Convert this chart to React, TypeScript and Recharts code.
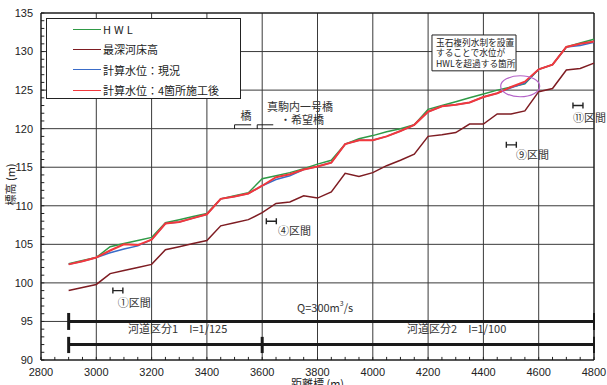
import React from 'react';
import {
  LineChart,
  Line,
  XAxis,
  YAxis,
  CartesianGrid,
  ReferenceLine,
  ReferenceDot,
  ReferenceArea,
  Legend,
} from 'recharts';

// distance marks (m) and levels
const distances = [
  2900, 2950, 3000, 3050, 3100, 3150, 3200, 3250, 3300, 3350, 3400, 3450, 3500,
  3550, 3600, 3650, 3700, 3750, 3800, 3850, 3900, 3950, 4000, 4050, 4100, 4150,
  4200, 4250, 4300, 4350, 4400, 4450, 4500, 4550, 4600, 4650, 4700, 4750, 4800,
];

const hwl = [
  102.5, 102.9, 103.3, 104.7, 105.1, 105.5, 105.9, 107.8, 108.2, 108.6, 109.0, 110.9, 111.3,
  111.7, 113.5, 113.9, 114.3, 114.8, 115.4, 115.9, 118.0, 118.7, 119.1, 119.6, 120.0, 120.5,
  122.5, 123.0, 123.5, 124.0, 124.5, 125.0, 125.4, 125.8, 127.7, 128.3, 130.6, 131.1, 131.6,
];

const bedLevel = [
  99.0, 99.4, 99.8, 101.2, 101.6, 102.0, 102.4, 104.3, 104.7, 105.1, 105.5, 107.4, 107.8,
  108.2, 109.1, 110.3, 110.5, 111.3, 111.0, 111.8, 114.2, 113.8, 114.3, 115.2, 115.9, 116.7,
  119.0, 119.2, 119.5, 120.6, 120.6, 121.9, 121.9, 122.3, 124.8, 125.2, 127.6, 127.8, 128.5,
];

const calcCurrent = [
  102.4, 102.8, 103.3, 103.9, 104.4, 104.8, 105.6, 107.7, 107.9, 108.4, 108.9, 110.9, 111.2,
  111.6, 112.6, 113.4, 113.9, 114.7, 115.1, 115.6, 118.0, 118.5, 118.5, 119.0, 119.7, 120.5,
  122.2, 122.9, 123.1, 123.4, 124.1, 124.6, 125.3, 125.9, 127.7, 128.3, 130.6, 130.8, 131.2,
];

const calcAfter = [
  102.4, 102.8, 103.3, 104.2, 105.0, 104.9, 105.6, 107.7, 107.9, 108.4, 108.9, 110.9, 111.2,
  111.6, 112.6, 113.7, 114.1, 114.7, 115.1, 115.6, 118.0, 118.5, 118.5, 119.0, 119.7, 120.5,
  122.2, 122.9, 123.1, 123.4, 124.1, 124.6, 125.4, 126.1, 127.7, 128.3, 130.6, 131.0, 131.3,
];

const xTicks = [2800, 3000, 3200, 3400, 3600, 3800, 4000, 4200, 4400, 4600, 4800];
const yTicks = [90, 95, 100, 105, 110, 115, 120, 125, 130, 135];
const xMinorTicks = Array.from({ length: 41 }, (_, i) => 2800 + i * 50);
const yMinorTicks = Array.from({ length: 46 }, (_, i) => 90 + i);

const seriesNames = ['HWL', '最深河床高', '計算水位：現況', '計算水位：4箇所施工後'];

const GREEN = '#2f9a46';
const DARKRED = '#7e1c22';
const BLUE = '#3a6cc8';
const RED = '#f2383c';
const seriesColors = [GREEN, DARKRED, BLUE, RED];

const JP = '"Noto Sans CJK JP", "Noto Sans", sans-serif';
const NUM = '"Liberation Sans", Arial, sans-serif';

const rows = distances.map((x, i) => ({
  x,
  hwl: hwl[i],
  bed: bedLevel[i],
  cur: calcCurrent[i],
  aft: calcAfter[i],
}));

const LegendBox = () => (
  <div
    style={{
      width: 195,
      height: 81,
      border: '1px solid #222',
      background: '#fff',
      boxSizing: 'border-box',
      position: 'relative',
      fontFamily: JP,
      fontSize: 11,
      color: '#222',
    }}
  >
    {seriesNames.map((name, i) => (
      <div
        key={name}
        style={{
          position: 'absolute',
          left: 26,
          top: 2 + i * 20.4,
          height: 16,
          display: 'flex',
          alignItems: 'center',
          whiteSpace: 'nowrap',
        }}
      >
        <span style={{ display: 'inline-block', width: 28, borderTop: `1.5px solid ${seriesColors[i]}` }} />
        <span style={{ marginLeft: 2, letterSpacing: i === 0 ? 3 : 0 }}>{name}</span>
      </div>
    ))}
  </div>
);

// text pinned to a chart position
const note = (x: number, y: number, text: React.ReactNode, key: string, anchor = 'start', size = 11) => (
  <ReferenceDot
    key={key}
    x={x}
    y={y}
    r={0}
    shape={(p: any) => (
      <text
        x={p.cx}
        y={p.cy}
        textAnchor={anchor}
        dominantBaseline="central"
        fontSize={size}
        fontFamily={JP}
        fill="#333"
      >
        {text}
      </text>
    )}
  />
);

// small |-| marker for section positions
const sectionMark = (x: number, y: number, key: string) => (
  <ReferenceDot
    key={key}
    x={x}
    y={y}
    r={0}
    shape={(p: any) => (
      <path
        d={`M${p.cx - 5},${p.cy - 3}v6M${p.cx - 5},${p.cy}h10M${p.cx + 5},${p.cy - 3}v6`}
        stroke="#222"
        strokeWidth={1.4}
        fill="none"
      />
    )}
  />
);

const seg = (x1: number, y1: number, x2: number, y2: number, key: string, w = 3, color = '#1a1a1a') => (
  <ReferenceLine
    key={key}
    segment={[{ x: x1, y: y1 }, { x: x2, y: y2 }]}
    stroke={color}
    strokeWidth={w}
    ifOverflow="visible"
  />
);

export default function App() {
  return (
    <div style={{ position: 'absolute', left: 0, top: 0, width: 607, height: 385, background: '#fff' }}>
      <LineChart width={607} height={385} data={rows} margin={{ top: 13, right: 13, bottom: 0, left: 0 }}>
        <CartesianGrid stroke="#3a3a3a" strokeWidth={1} />
        <XAxis
          type="number"
          dataKey="x"
          domain={[2800, 4800]}
          ticks={xTicks}
          height={25}
          tickLine={false}
          tickSize={6}
          tickMargin={2}
          axisLine={{ stroke: '#111' }}
          tick={{ fontSize: 11, fill: '#222', fontFamily: NUM }}
          label={{
            content: (p: any) => (
              <text
                x={p.viewBox.x + p.viewBox.width / 2}
                y={p.viewBox.y + 28}
                textAnchor="middle"
                fontSize={11}
                fontFamily={JP}
                fill="#222"
              >
                距離標 (m)
              </text>
            ),
          }}
        />
        <YAxis
          type="number"
          domain={[90, 135]}
          ticks={yTicks}
          width={41}
          tickLine={false}
          tickSize={6}
          tickMargin={2}
          axisLine={{ stroke: '#111' }}
          tick={{ fontSize: 11, fill: '#222', fontFamily: NUM }}
          label={{
            content: (p: any) => {
              const cx = 10;
              const cy = p.viewBox.y + p.viewBox.height / 2 - 2;
              return (
                <text
                  x={cx}
                  y={cy}
                  transform={`rotate(-90 ${cx} ${cy})`}
                  textAnchor="middle"
                  dominantBaseline="central"
                  fontSize={11}
                  fontFamily={JP}
                  fill="#222"
                >
                  標高 (m)
                </text>
              );
            },
          }}
        />
        <ReferenceLine y={135} stroke="#111" />
        <ReferenceLine x={4800} stroke="#111" />

        {/* inward minor ticks */}
        {xMinorTicks.map((v) => seg(v, 90, v, 90.4, `mx${v}`, 1, '#222'))}
        {yMinorTicks.map((v) => seg(2800, v, 2812, v, `my${v}`, 1, '#222'))}

        <Line dataKey="hwl" name={seriesNames[0]} stroke={GREEN} strokeWidth={1.5} dot={false} activeDot={false} isAnimationActive={false} />
        <Line dataKey="bed" name={seriesNames[1]} stroke={DARKRED} strokeWidth={1.5} dot={false} activeDot={false} isAnimationActive={false} />
        <Line dataKey="cur" name={seriesNames[2]} stroke={BLUE} strokeWidth={1.5} dot={false} activeDot={false} isAnimationActive={false} />
        <Line dataKey="aft" name={seriesNames[3]} stroke={RED} strokeWidth={2} dot={false} activeDot={false} isAnimationActive={false} />

        {/* river segment bars */}
        {seg(2900, 95, 4800, 95, 'b1')}
        {seg(2900, 92, 4800, 92, 'b2')}
        {seg(2900, 93.9, 2900, 96.1, 't1')}
        {seg(2900, 90.9, 2900, 93.0, 't2')}
        {seg(3600, 90.9, 3600, 93.0, 't3')}
        {seg(4800, 93.9, 4800, 96.1, 't4', 2)}
        {seg(4800, 90.9, 4800, 93.0, 't5', 2)}
        {note(3115, 94.15, '河道区分1　I=1/125', 'n1')}
        {note(4124, 94.15, '河道区分2　I=1/100', 'n2')}
        {note(
          3726,
          96.9,
          <>
            Q=300m<tspan dy={-4} fontSize={7}>3</tspan>
            <tspan dy={4}>/s</tspan>
          </>,
          'q',
        )}

        {/* bridges */}
        {seg(3500, 120.5, 3560, 120.5, 'br1', 1)}
        {seg(3500, 120.5, 3500, 119.95, 'br1v', 1)}
        {seg(3582, 120.5, 3640, 120.5, 'br2', 1)}
        {seg(3582, 120.5, 3582, 119.95, 'br2v', 1)}
        {note(3541, 121.8, '橋', 'bridge1', 'middle')}
        {note(3617, 122.9, '真駒内一号橋', 'bridge2')}
        {note(3664, 121.25, '・希望橋', 'bridge3')}

        {/* sections */}
        {sectionMark(3078, 99.0, 'm1')}
        {note(3078, 97.5, '①区間', 's1')}
        {sectionMark(3633, 108.0, 'm4')}
        {note(3657, 106.9, '④区間', 's4')}
        {sectionMark(4501, 117.9, 'm9')}
        {note(4518, 116.65, '⑨区間', 's9')}
        {sectionMark(4742, 123.0, 'm11')}
        {note(4724, 121.5, '⑪区間', 's11')}

        {/* exceedance callout */}
        <ReferenceDot
          x={4533}
          y={125.5}
          r={0}
          shape={(p: any) => (
            <ellipse cx={p.cx} cy={p.cy} rx={19.5} ry={10.5} fill="none" stroke="#b462c8" strokeWidth={1.2} />
          )}
        />
        <ReferenceArea
          x1={4214}
          x2={4518}
          y1={127.5}
          y2={132.15}
          fill="#fff"
          fillOpacity={1}
          stroke="#222"
          strokeWidth={1}
          label={{
            content: (p: any) => {
              const { x, y } = p.viewBox;
              const lines = ['玉石複列水制を設置', 'することで水位が', 'HWLを超過する箇所'];
              return (
                <g>
                  {lines.map((t, i) => (
                    <text
                      key={t}
                      x={x + 4}
                      y={y + 7.5 + i * 10.5}
                      dominantBaseline="central"
                      fontSize={8.7}
                      fontFamily={JP}
                      fill="#222"
                    >
                      {t}
                    </text>
                  ))}
                </g>
              );
            },
          }}
        />

        <Legend
          layout="vertical"
          align="center"
          verticalAlign="middle"
          content={() => <LegendBox />}
          wrapperStyle={{ position: 'absolute', left: 46, top: 18, width: 195, height: 81 }}
        />
      </LineChart>
    </div>
  );
}
